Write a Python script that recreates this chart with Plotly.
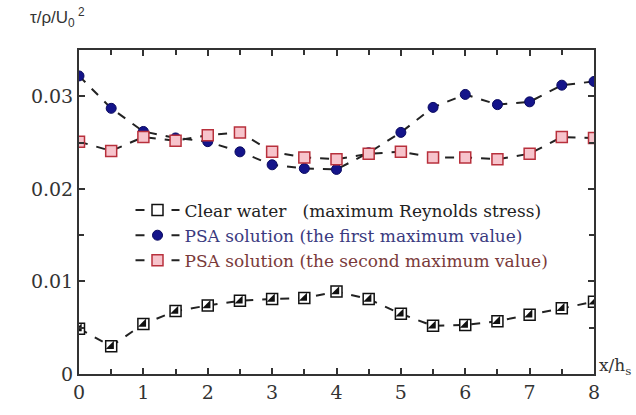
import plotly.graph_objects as go

x = [0, 0.5, 1, 1.5, 2, 2.5, 3, 3.5, 4, 4.5, 5, 5.5, 6, 6.5, 7, 7.5, 8]
clear_water = [0.0049, 0.0030, 0.0054, 0.0068, 0.0074, 0.0079, 0.0081, 0.0082, 0.0089,
               0.0081, 0.0065, 0.0052, 0.0053, 0.0057, 0.0064, 0.0071, 0.0078]
psa_first = [0.0322, 0.0287, 0.0262, 0.0255, 0.0251, 0.0240, 0.0226, 0.0222, 0.0221,
             0.0239, 0.0261, 0.0288, 0.0302, 0.0291, 0.0294, 0.0312, 0.0316]
psa_second = [0.0251, 0.0241, 0.0256, 0.0252, 0.0258, 0.0261, 0.0240, 0.0234, 0.0232,
              0.0238, 0.0240, 0.0234, 0.0234, 0.0232, 0.0238, 0.0256, 0.0255]

names = ["<span style='color:#222'>Clear water\u00a0\u00a0\u00a0(maximum Reynolds stress)</span>",
         "<span style='color:#3a3a80'>PSA solution (the first maximum value)</span>",
         "<span style='color:#7a3a3a'>PSA solution (the second maximum value)</span>"]

serif = "DejaVu Serif"
fig = go.Figure()

fig.add_trace(go.Scatter(
    x=x, y=clear_water, mode="lines+markers", name=names[0],
    line=dict(color="#222", width=2, dash="dash"),
    marker=dict(symbol="square", size=11, color="white", line=dict(color="#111", width=1.5)),
    legendrank=1))
fig.add_trace(go.Scatter(
    x=x, y=clear_water, mode="markers", showlegend=False, hoverinfo="skip",
    marker=dict(symbol="triangle-se", size=9, color="#111", line=dict(width=0))))
fig.add_trace(go.Scatter(
    x=x, y=psa_first, mode="lines+markers", name=names[1],
    line=dict(color="#222", width=2, dash="dash"),
    marker=dict(symbol="circle", size=10, color="#14148a", line=dict(color="#0a0a60", width=1)),
    legendrank=2))
fig.add_trace(go.Scatter(
    x=x, y=psa_second, mode="lines+markers", name=names[2],
    line=dict(color="#222", width=2, dash="dash"),
    marker=dict(symbol="square", size=11, color="#f7c4cc", line=dict(color="#b8303c", width=1.5)),
    legendrank=3))

axis_common = dict(showline=True, linewidth=2, linecolor="#333", mirror="ticks",
                   ticks="inside", tickcolor="#333", tickwidth=1.5, ticklen=6,
                   showgrid=False, zeroline=False,
                   tickfont=dict(family=serif, size=19, color="#333"))

fig.update_xaxes(range=[0, 8], dtick=1, tick0=0,
                 minor=dict(dtick=0.5, ticks="inside", ticklen=5, tickcolor="#333", tickwidth=1.5),
                 **axis_common)
fig.update_yaxes(range=[0, 0.035], dtick=0.01, tick0=0, tickformat="~g",
                 minor=dict(dtick=0.005, ticks="inside", ticklen=5, tickcolor="#333", tickwidth=1.5),
                 **axis_common)

fig.add_annotation(text="\u03c4/\u03c1/U<sub>0</sub><sup> 2</sup>", xref="paper", yref="paper",
                   x=-0.1, y=1.055, xanchor="left", yanchor="bottom", showarrow=False,
                   font=dict(family="Liberation Sans", size=17, color="#333"))
fig.add_annotation(text="x/h<sub>s</sub>", xref="paper", yref="paper",
                   x=1.005, y=-0.02, xanchor="left", yanchor="bottom", showarrow=False,
                   font=dict(family=serif, size=17, color="#333"))

fig.update_layout(
    width=636, height=415,
    margin=dict(l=79, r=42, t=50, b=33),
    paper_bgcolor="white", plot_bgcolor="white",
    showlegend=True,
    legend=dict(x=0.1, y=0.56, xanchor="left", yanchor="top",
                bgcolor="rgba(0,0,0,0)", tracegroupgap=0, itemwidth=44,
                font=dict(family=serif, size=17, color="#222")),
)

fig.write_html("out.html")
